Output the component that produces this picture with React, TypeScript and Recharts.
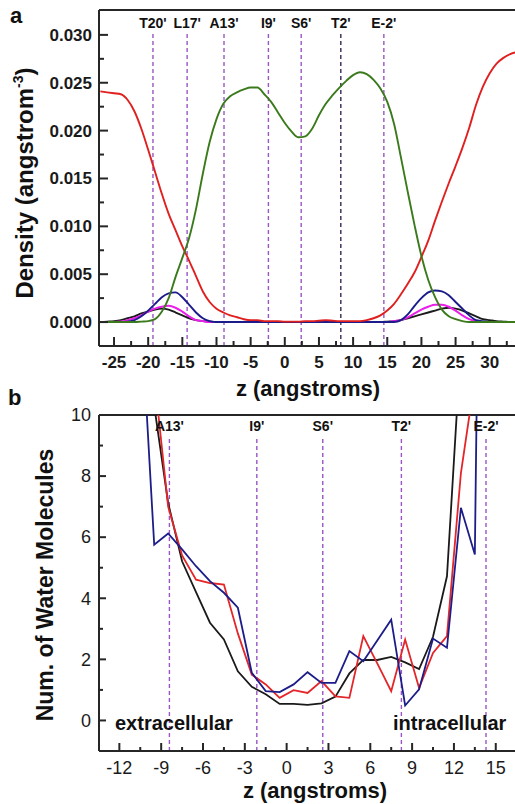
import { LineChart, Line, XAxis, YAxis, ReferenceLine } from 'recharts'

const FONT = '"Liberation Sans", Arial, Helvetica, sans-serif'
const AXIS = '#262626'
const GUIDE = '#9b55c6'

// ---- panel a: density profiles along z ----
const zA = [
  -27, -26, -25, -24, -23, -22, -21, -20, -19, -18,
  -17, -16, -15, -14, -13, -12, -11, -10, -9, -8,
  -7, -6, -5, -4, -3, -2, -1, 0, 1, 2,
  3, 4, 5, 6, 7, 8, 9, 10, 11, 12,
  13, 14, 15, 16, 17, 18, 19, 20, 21, 22,
  23, 24, 25, 26, 27, 28, 29, 30, 31, 32,
  33, 34,
]
const redA = [
  0.0241, 0.024, 0.0239, 0.0238, 0.0232, 0.022, 0.0202, 0.018, 0.0157, 0.0134,
  0.0113, 0.0096, 0.0079, 0.0064, 0.0048, 0.0032, 0.0021, 0.0014, 0.001, 0.0007,
  0.0005, 0.0003, 0.0002, 0.0002, 0.0001, 0.0001, 0.0001, 0.00005, 0.00005, 0.00005,
  0.0001, 0.0001, 0.00015, 0.0002, 0.00015, 0.0001, 0.0001, 0.0001, 0.0001, 0.0002,
  0.0004, 0.0007, 0.0012, 0.0019, 0.0029, 0.004, 0.0052, 0.0068, 0.0085, 0.0106,
  0.0126, 0.0145, 0.0163, 0.0182, 0.0203, 0.0227, 0.0246, 0.026, 0.027, 0.0276,
  0.028, 0.0282,
]
const greenA = [
  0, 0, 0, 0, 0, 0, 0.00005, 0.0001, 0.0003, 0.0011,
  0.0025, 0.0047, 0.0067, 0.0088, 0.0118, 0.0155, 0.0188, 0.0212, 0.0228, 0.0236,
  0.024, 0.0243, 0.0245, 0.0245, 0.0238, 0.023, 0.0219, 0.0208, 0.0199, 0.0193,
  0.0194, 0.0202, 0.0216, 0.0228, 0.0237, 0.0245, 0.0252, 0.0258, 0.0261, 0.0259,
  0.0253, 0.0244, 0.023, 0.0207, 0.0172, 0.0136, 0.0101, 0.0069, 0.0044, 0.0026,
  0.0013, 0.0006, 0.0003, 0.0001, 0, 0, 0, 0, 0, 0,
  0, 0,
]
const blueA = [
  0, 0, 0, 0, 0.00005, 0.0002, 0.0006, 0.0012, 0.0019, 0.0026,
  0.003, 0.0031, 0.0026, 0.0018, 0.001, 0.0004, 0.0001, 0, 0, 0,
  0, 0, 0, 0, 0, 0, 0, 0, 0, 0,
  0, 0, 0, 0, 0, 0, 0, 0, 0, 0,
  0, 0, 0, 0, 0.0002, 0.0008, 0.0017, 0.0025, 0.0031, 0.0033,
  0.0032, 0.0028, 0.0021, 0.0014, 0.0007, 0.0002, 0.0001, 0, 0, 0,
  0, 0,
]
const magentaA = [
  0, 0, 0, 0.00005, 0.0002, 0.0004, 0.0007, 0.0011, 0.0014, 0.0016,
  0.0017, 0.0015, 0.0011, 0.0006, 0.0002, 0.0001, 0, 0, 0, 0,
  0, 0, 0, 0, 0, 0, 0, 0, 0, 0,
  0, 0, 0, 0, 0, 0, 0, 0, 0, 0,
  0, 0, 0, 0.0001, 0.0002, 0.0005, 0.0009, 0.0013, 0.0016, 0.0018,
  0.0018, 0.0016, 0.0012, 0.0007, 0.0003, 0.0001, 0, 0, 0, 0,
  0, 0,
]
const blackA = [
  0, 0.00005, 0.0001, 0.0002, 0.0004, 0.0006, 0.0009, 0.0011, 0.0013, 0.0014,
  0.0013, 0.001, 0.0007, 0.0004, 0.0002, 0.0001, 0.00005, 0, 0, 0,
  0, 0, 0, 0, 0, 0, 0, 0, 0, 0,
  0, 0, 0, 0, 0, 0, 0, 0, 0, 0,
  0, 0, 0.00005, 0.0001, 0.0002, 0.0004, 0.0006, 0.0008, 0.001, 0.0012,
  0.0014, 0.0015, 0.0014, 0.0012, 0.0009, 0.0006, 0.0003, 0.0002, 0.0001, 0.00005,
  0, 0,
]
const residuesA = ["T20'", "L17'", "A13'", "I9'", "S6'", "T2'", "E-2'"]
const residueZA = [-19.3, -14.3, -8.9, -2.4, 2.4, 8.2, 14.5]
const xTicksA = [-25, -22.5, -20, -17.5, -15, -12.5, -10, -7.5, -5, -2.5, 0, 2.5, 5, 7.5, 10, 12.5, 15, 17.5, 20, 22.5, 25, 27.5, 30, 32.5]
const xLabelsA = [-25, -20, -15, -10, -5, 0, 5, 10, 15, 20, 25, 30]
const yTicksA = [0, 0.0025, 0.005, 0.0075, 0.01, 0.0125, 0.015, 0.0175, 0.02, 0.0225, 0.025, 0.0275, 0.03]
const yLabelsA = [0, 0.005, 0.01, 0.015, 0.02, 0.025, 0.03]

// ---- panel b: water count along the pore ----
const zB = [-10.5, -9.5, -8.5, -7.5, -6.5, -5.5, -4.5, -3.5, -2.5, -1.5, -0.5, 0.5, 1.5, 2.5, 3.5, 4.5, 5.5, 6.5, 7.5, 8.5, 9.5, 10.5, 11.5, 12.5, 13.5, 14.5]
const blueB = [13.8, 5.75, 6.12, 5.6, 5.05, 4.56, 4.18, 3.69, 1.56, 0.96, 0.93, 1.18, 1.58, 1.23, 1.23, 2.27, 1.94, 2.62, 3.3, 0.49, 1.02, 2.68, 2.38, 6.96, 5.43, 43]
const redB = [20, 11.3, 7.0, 5.4, 4.61, 4.5, 4.45, 2.85, 1.5, 1.18, 0.74, 0.99, 0.9, 1.29, 0.79, 0.74, 2.76, 1.87, 0.96, 2.65, 1.06, 2.21, 2.76, 8.1, 11.2, 30]
const blackB = [15, 10.3, 7.12, 5.21, 4.2, 3.2, 2.65, 1.61, 1.1, 0.86, 0.54, 0.54, 0.51, 0.56, 0.78, 1.54, 1.98, 1.98, 2.08, 1.9, 1.68, 2.74, 4.72, 12.3, 20, 30]
const residuesB = ["A13'", "I9'", "S6'", "T2'", "E-2'"]
const residueZB = [-8.41, -2.14, 2.59, 8.23, 14.3]
const xTicksB = [-12, -10.5, -9, -7.5, -6, -4.5, -3, -1.5, 0, 1.5, 3, 4.5, 6, 7.5, 9, 10.5, 12, 13.5, 15]
const xLabelsB = [-12, -9, -6, -3, 0, 3, 6, 9, 12, 15]
const yTicksB = [0, 1, 2, 3, 4, 5, 6, 7, 8, 9, 10]
const yLabelsB = [0, 2, 4, 6, 8, 10]

const dataA = zA.map((z, i) => ({ z, red: redA[i], green: greenA[i], blue: blueA[i], magenta: magentaA[i], black: blackA[i] }))
const dataB = zB.map((z, i) => ({ z, blue: blueB[i], red: redB[i], black: blackB[i] }))

const Y_DOMAIN_A: [number, number] = [-0.0025, 0.0326]
const Y_DOMAIN_B: [number, number] = [-1, 10]

type TickCfg = {
  labels: number[]
  major: number
  minor: number
  gap: number
  size: number
  bold: boolean
  fmt: (v: number) => string
}

// ticks point into the plot; labels only on the major ones
function xTick(cfg: TickCfg) {
  return (p: any) => {
    const { x, y, payload } = p
    const isMajor = cfg.labels.includes(payload.value)
    const len = isMajor ? cfg.major : cfg.minor
    return (
      <g>
        <path d={`M${x},${y}V${y - len}`} stroke={AXIS} strokeWidth={2} fill="none" />
        {isMajor && (
          <text x={x} y={y + cfg.gap} dy="0.35em" textAnchor="middle" fontSize={cfg.size}
            fontWeight={cfg.bold ? 700 : 400} fontFamily={FONT} fill="#1a1a1a">
            {cfg.fmt(payload.value)}
          </text>
        )}
      </g>
    )
  }
}

function yTick(cfg: TickCfg) {
  return (p: any) => {
    const { x, y, payload } = p
    const isMajor = cfg.labels.includes(payload.value)
    const len = isMajor ? cfg.major : cfg.minor
    return (
      <g>
        <path d={`M${x},${y}H${x + len}`} stroke={AXIS} strokeWidth={2} fill="none" />
        {isMajor && (
          <text x={x - cfg.gap} y={y} dy="0.35em" textAnchor="end" fontSize={cfg.size}
            fontWeight={cfg.bold ? 700 : 400} fontFamily={FONT} fill="#1a1a1a">
            {cfg.fmt(payload.value)}
          </text>
        )}
      </g>
    )
  }
}

const residueLabel = (name: string, offset: number) => ({
  value: name,
  position: 'top' as const,
  offset,
  fill: '#111',
  fontSize: 14,
  fontWeight: 700,
  fontFamily: FONT,
})

function DensityPanel() {
  return (
    <LineChart width={515} height={380} data={dataA} margin={{ top: 10, right: 0, left: 39, bottom: 0 }}>
      <XAxis
        dataKey="z" type="number" domain={[-27.2, 33.7]} allowDataOverflow ticks={xTicksA}
        height={34} tickSize={0} tickMargin={0} tickLine={false} interval={0}
        axisLine={{ stroke: AXIS, strokeWidth: 2 }}
        tick={xTick({ labels: xLabelsA, major: 9, minor: 5, gap: 16, size: 17, bold: true, fmt: (v) => String(v) })}
      />
      <YAxis
        type="number" domain={Y_DOMAIN_A} allowDataOverflow ticks={yTicksA} width={60}
        tickSize={0} tickMargin={0} tickLine={false} interval={0}
        axisLine={{ stroke: AXIS, strokeWidth: 2 }}
        tick={yTick({ labels: yLabelsA, major: 9, minor: 5, gap: 7, size: 17, bold: true, fmt: (v) => v.toFixed(3) })}
      />
      <ReferenceLine y={Y_DOMAIN_A[1]} stroke={AXIS} strokeWidth={2} />
      {residuesA.map((name, i) => (
        <ReferenceLine
          key={name}
          segment={[{ x: residueZA[i], y: Y_DOMAIN_A[0] }, { x: residueZA[i], y: 0.0303 }]}
          stroke={name === "T2'" ? '#3a2457' : GUIDE}
          strokeWidth={1.4}
          strokeDasharray="4 3"
          label={residueLabel(name, 4)}
        />
      ))}
      <Line type="monotone" dataKey="black" stroke="#1c1c1c" strokeWidth={1.9} dot={false} isAnimationActive={false} />
      <Line type="monotone" dataKey="magenta" stroke="#ea1fea" strokeWidth={2} dot={false} isAnimationActive={false} />
      <Line type="monotone" dataKey="blue" stroke="#1b1b8c" strokeWidth={1.9} dot={false} isAnimationActive={false} />
      <Line type="monotone" dataKey="red" stroke="#e0201f" strokeWidth={1.9} dot={false} isAnimationActive={false} />
      <Line type="monotone" dataKey="green" stroke="#3b7a1c" strokeWidth={1.9} dot={false} isAnimationActive={false} />
    </LineChart>
  )
}

function WaterPanel() {
  return (
    <LineChart width={515} height={404} data={dataB} margin={{ top: 15, right: 0, left: 39, bottom: 0 }}>
      <XAxis
        dataKey="z" type="number" domain={[-13.46, 16.38]} allowDataOverflow ticks={xTicksB}
        height={53} tickSize={0} tickMargin={0} tickLine={false} interval={0}
        axisLine={{ stroke: AXIS, strokeWidth: 2 }}
        tick={xTick({ labels: xLabelsB, major: 8, minor: 4, gap: 17, size: 18, bold: false, fmt: (v) => String(v) })}
      />
      <YAxis
        type="number" domain={Y_DOMAIN_B} allowDataOverflow ticks={yTicksB} width={60}
        tickSize={0} tickMargin={0} tickLine={false} interval={0}
        axisLine={{ stroke: AXIS, strokeWidth: 2 }}
        tick={yTick({ labels: yLabelsB, major: 7, minor: 4, gap: 8, size: 18, bold: false, fmt: (v) => String(v) })}
      />
      <ReferenceLine y={Y_DOMAIN_B[1]} stroke={AXIS} strokeWidth={2} />
      {residuesB.map((name, i) => (
        <ReferenceLine
          key={name}
          segment={[{ x: residueZB[i], y: Y_DOMAIN_B[0] }, { x: residueZB[i], y: 9.3 }]}
          stroke={GUIDE}
          strokeWidth={1.4}
          strokeDasharray="4 3"
          label={residueLabel(name, 5)}
        />
      ))}
      <Line type="linear" dataKey="black" stroke="#1a1a1a" strokeWidth={1.8} dot={false} isAnimationActive={false} />
      <Line type="linear" dataKey="red" stroke="#e3262a" strokeWidth={1.8} dot={false} isAnimationActive={false} />
      <Line type="linear" dataKey="blue" stroke="#1d1d8a" strokeWidth={1.8} dot={false} isAnimationActive={false} />
    </LineChart>
  )
}

export default function App() {
  const title = { fontFamily: FONT, fontWeight: 700, fill: '#111' }
  return (
    <div style={{ position: 'absolute', left: 0, top: 0, width: 515, height: 804, overflow: 'hidden', background: '#fff' }}>
      <div style={{ position: 'absolute', left: 0, top: 0 }}>
        <DensityPanel />
      </div>
      <div style={{ position: 'absolute', left: 0, top: 400 }}>
        <WaterPanel />
      </div>
      <svg width={515} height={804} style={{ position: 'absolute', left: 0, top: 0, pointerEvents: 'none' }}>
        <text x={10} y={23} fontSize={22} {...title}>a</text>
        <text x={8} y={405} fontSize={22} {...title}>b</text>
        <text x={308} y={396} fontSize={22} textAnchor="middle" {...title}>z (angstroms)</text>
        <text x={315} y={798} fontSize={22} textAnchor="middle" {...title}>z (angstroms)</text>
        <text x={33} y={183} fontSize={24} textAnchor="middle" transform="rotate(-90, 33, 183)" {...title}>
          Density (angstrom<tspan fontSize={14} dy={-10}>-3</tspan><tspan dy={10}>)</tspan>
        </text>
        <text x={53} y={585} fontSize={23} textAnchor="middle" transform="rotate(-90, 53, 585)" {...title}>
          Num. of Water Molecules
        </text>
        <text x={115} y={730} fontSize={20} {...title}>extracellular</text>
        <text x={393} y={730} fontSize={20} {...title}>intracellular</text>
      </svg>
    </div>
  )
}
